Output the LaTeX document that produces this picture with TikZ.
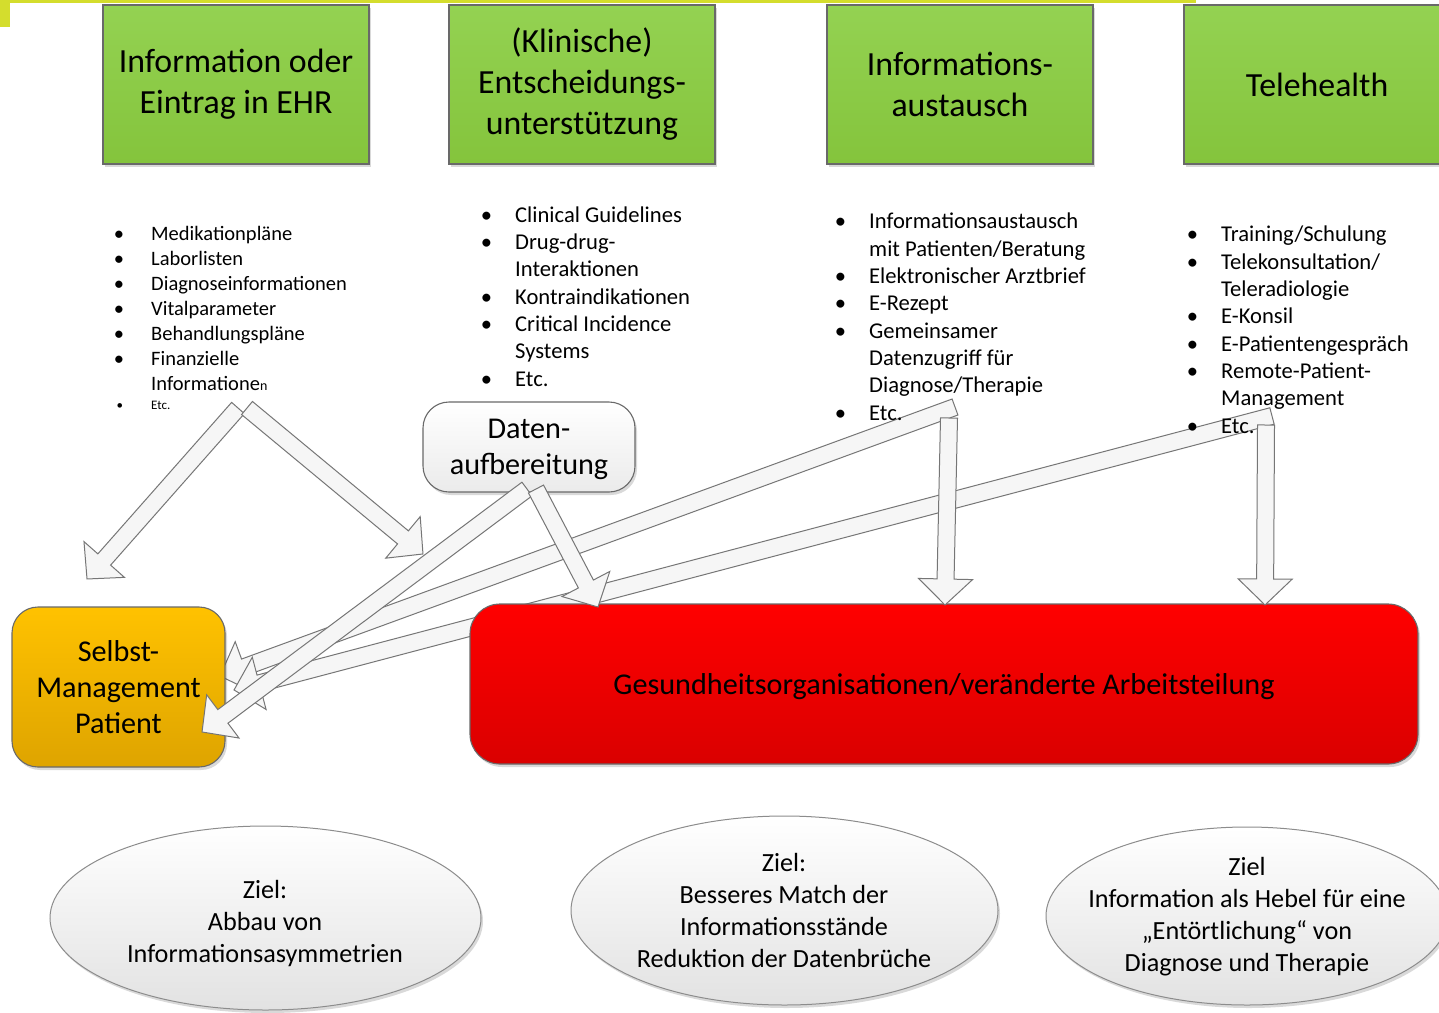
\documentclass[tikz,border=0pt]{standalone}
\usepackage{fontspec}
\setmainfont{Carlito}
\usetikzlibrary{calc,shapes.geometric,shadows}

\definecolor{barcol}{RGB}{212,221,45}
\definecolor{greentop}{RGB}{148,210,82}
\definecolor{greenbot}{RGB}{132,196,60}
\definecolor{boxline}{RGB}{105,105,105}
\definecolor{orangetop}{RGB}{255,194,0}
\definecolor{orangebot}{RGB}{222,164,0}
\definecolor{redtop}{RGB}{255,0,0}
\definecolor{redbot}{RGB}{218,0,0}
\definecolor{arrowfill}{RGB}{246,246,246}
\definecolor{arrowline}{RGB}{118,118,118}
\definecolor{palebot}{RGB}{226,226,226}
\definecolor{paleline}{RGB}{140,140,140}

\tikzset{
  softshadow/.style={drop shadow={shadow xshift=2pt, shadow yshift=-3pt, fill=black, opacity=0.15}},
  greenbox/.style={draw=boxline, line width=1.4pt, top color=greentop, bottom color=greenbot,
    minimum width=266pt, minimum height=159pt, align=center, inner sep=0pt,
    font=\fontsize{33.8}{41}\selectfont, softshadow},
  roundbox/.style={draw=boxline, line width=1.1pt, align=center, inner sep=0pt, softshadow},
  goal/.style={ellipse, draw=paleline, line width=1pt, top color=white, bottom color=palebot,
    inner sep=0pt, softshadow},
  goaltext/.style={align=center, inner sep=0pt, font=\fontsize{26.2}{32}\selectfont},
  listtext/.style={align=left, inner sep=0pt, anchor=base west},
  blockarrow/.style={draw=arrowline, line width=1pt, fill=arrowfill, line join=miter},
}

% thick outlined arrow from #1 to #2 (shaft half width 8.5pt, head 27pt x 26pt)
\newcommand\blockarrow[2]{%
  \path let \p1=($(#2)-(#1)$) in \pgfextra{%
    \pgfmathsetmacro\baAng{atan2(\y1,\x1)}%
    \pgfmathsetmacro\baLen{veclen(\x1,\y1)}%
    \xdef\baAngG{\baAng}\xdef\baLenG{\baLen}};
  \begin{scope}[shift={(#1)}, rotate=\baAngG]
    \draw[blockarrow] (0pt,-8.5pt) -- (\baLenG pt-26pt,-8.5pt) -- (\baLenG pt-26pt,-27pt)
      -- (\baLenG pt,0pt) -- (\baLenG pt-26pt,27pt) -- (\baLenG pt-26pt,8.5pt)
      -- (0pt,8.5pt) -- cycle;
  \end{scope}}

\newcommand\listdot[1][23pt]{\llap{\textbullet\hspace{#1}}}

\begin{document}
\begin{tikzpicture}[x=1pt,y=-1pt]
\useasboundingbox (0,0) rectangle (1439,1012);
\fill[white] (0,0) rectangle (1439,1012);

% title bar
\fill[barcol] (0,0) rectangle (1196,3);
\fill[barcol] (0,0) rectangle (10,27);

% category boxes
\node[greenbox] (ehr)  at (236,84.5)  {Information oder\\Eintrag in EHR};
\node[greenbox] (cds)  at (582,84.5)  {(Klinische)\\Entscheidungs-\\unterstützung};
\node[greenbox] (hie)  at (960,84.5)  {Informations-\\austausch};
\node[greenbox] (tele) at (1317,84.5) {Telehealth};

% data preparation
\node[roundbox, rounded corners=26pt, top color=white, bottom color=palebot!70,
      minimum width=212pt, minimum height=90pt, text depth=0pt,
      font=\fontsize{30.2}{36}\selectfont]
      (prep) at (529,447) {Daten-\\aufbereitung};

% arrow end points
\coordinate (eS) at (955,407);   \coordinate (eT) at (220,676);
\coordinate (tS) at (1272,416);  \coordinate (tT) at (234,690);
\coordinate (fS) at (949,418);   \coordinate (fT) at (945,605);
\coordinate (gS) at (1266,425);  \coordinate (gT) at (1265,605);
\coordinate (cS) at (527,489);   \coordinate (cT) at (202,732);
\coordinate (dS) at (536,489);   \coordinate (dT) at (598,607);
\coordinate (aS) at (238,408);   \coordinate (aT) at (87,579);
\coordinate (bS) at (247,408);   \coordinate (bT) at (423,554);

% long arrows to the patient
\blockarrow{eS}{eT}
\blockarrow{tS}{tT}

% organisations and patient
\node[roundbox, rounded corners=30pt, top color=redtop, bottom color=redbot,
      minimum width=948pt, minimum height=160pt, text depth=0pt,
      font=\fontsize{30.2}{36}\selectfont]
      (org) at (944,684) {Gesundheitsorganisationen/veränderte Arbeitsteilung};
\node[roundbox, rounded corners=26pt, top color=orangetop, bottom color=orangebot,
      minimum width=213pt, minimum height=160pt, font=\fontsize{30.2}{36}\selectfont]
      (self) at (118.5,687) {Selbst-\\Management\\Patient};

% remaining arrows
\blockarrow{fS}{fT}
\blockarrow{gS}{gT}
\blockarrow{cS}{cT}
\blockarrow{dS}{dT}
\blockarrow{aS}{aT}
\blockarrow{bS}{bT}

% item lists (anchored at the baseline of their last line)
\node[listtext, font=\fontsize{20.5}{25}\selectfont] (ehrlist) at (151,409)
  {\listdot[27pt]Medikationpläne\\
   \listdot[27pt]Laborlisten\\
   \listdot[27pt]Diagnoseinformationen\\
   \listdot[27pt]Vitalparameter\\
   \listdot[27pt]Behandlungspläne\\
   \listdot[27pt]Finanzielle\\
   Informatione{\fontsize{14}{16}\selectfont n}\\[-6pt]
   {\fontsize{13}{16}\selectfont\listdot[28pt]Etc.}};

\node[listtext, font=\fontsize{22.6}{27.3}\selectfont] (cdslist) at (515,386)
  {\listdot Clinical Guidelines\\
   \listdot Drug-drug-\\
   Interaktionen\\
   \listdot Kontraindikationen\\
   \listdot Critical Incidence\\
   Systems\\
   \listdot Etc.};

\node[listtext, font=\fontsize{22.6}{27.3}\selectfont] (hielist) at (869,420)
  {\listdot Informationsaustausch\\
   mit Patienten/Beratung\\
   \listdot Elektronischer Arztbrief\\
   \listdot E-Rezept\\
   \listdot Gemeinsamer\\
   Datenzugriff für\\
   Diagnose/Therapie\\
   \listdot Etc.};

\node[listtext, font=\fontsize{22.6}{27.3}\selectfont] (telelist) at (1221,433)
  {\listdot Training/Schulung\\
   \listdot Telekonsultation/\\
   Teleradiologie\\
   \listdot E-Konsil\\
   \listdot E-Patientengespräch\\
   \listdot Remote-Patient-\\
   Management\\
   \listdot Etc.};

% goals
\node[goal, minimum width=431pt, minimum height=184pt] (goal1) at (265.5,918) {};
\node[goaltext] (goal1text) at (265,923) {Ziel:\\Abbau von\\Informationsasymmetrien};
\node[goal, minimum width=427pt, minimum height=189pt] (goal2) at (784.5,910.5) {};
\node[goaltext] (goal2text) at (784,910) {Ziel:\\Besseres Match der\\Informationsstände\\Reduktion der Datenbrüche};
\node[goal, minimum width=402pt, minimum height=178pt] (goal3) at (1247,916) {};
\node[goaltext] (goal3text) at (1247,917) {Ziel\\Information als Hebel für eine\\„Entörtlichung“ von\\Diagnose und Therapie};
\end{tikzpicture}
\end{document}
